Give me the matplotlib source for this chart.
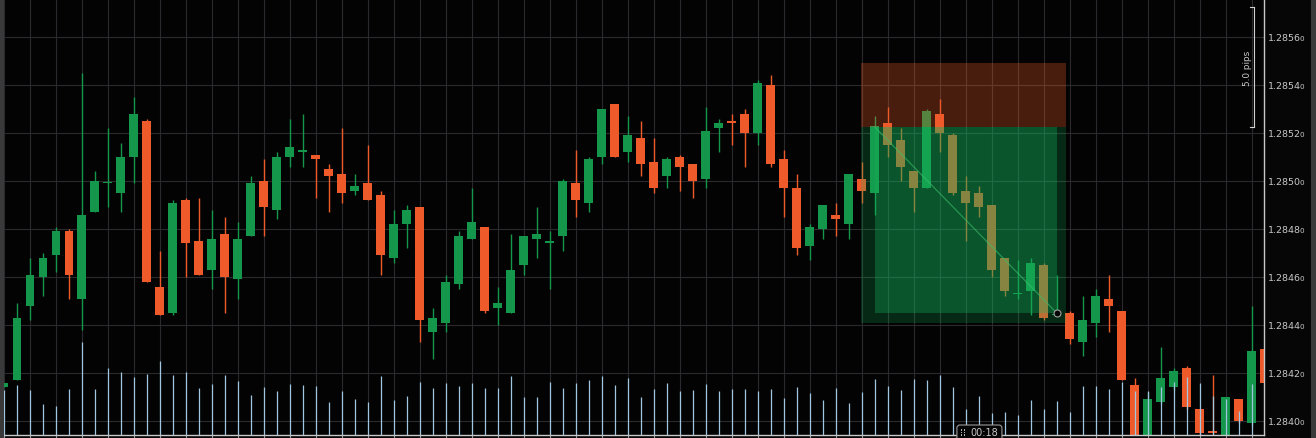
import matplotlib
matplotlib.use("Agg")
import matplotlib.pyplot as plt
from matplotlib import transforms
from matplotlib.patches import Rectangle, FancyBboxPatch
import numpy as np

# ---------------- data ----------------
opens = [1.28414, 1.28417, 1.28448, 1.28460, 1.28469, 1.28479, 1.28451, 1.28487, 1.28499, 1.28495,
         1.28510, 1.28525, 1.28456, 1.28445, 1.28492, 1.28475, 1.28463, 1.28478, 1.28459, 1.28477,
         1.28500, 1.28488, 1.28510, 1.28512, 1.28511, 1.28505, 1.28503, 1.28496, 1.28499, 1.28494,
         1.28468, 1.28482, 1.28489, 1.28437, 1.28441, 1.28457, 1.28476, 1.28481, 1.28447, 1.28445,
         1.28465, 1.28476, 1.28474, 1.28477, 1.28499, 1.28491, 1.28510, 1.28532, 1.28512, 1.28518,
         1.28508, 1.28502, 1.28510, 1.28507, 1.28501, 1.28522, 1.28525, 1.28528, 1.28520, 1.28540,
         1.28509, 1.28497, 1.28473, 1.28480, 1.28486, 1.28482, 1.28501, 1.28495, 1.28524, 1.28517,
         1.28504, 1.28497, 1.28528, 1.28519, 1.28496, 1.28495, 1.28490, 1.28468, 1.28453, 1.28454,
         1.28465, 1.28444, 1.28445, 1.28433, 1.28441, 1.28451, 1.28446, 1.28415, 1.28393, 1.28408,
         1.28414, 1.28422, 1.28405, 1.28396, 1.28393, 1.28409, 1.28399, 1.28430]
closes = [1.28416, 1.28443, 1.28461, 1.28468, 1.28479, 1.28461, 1.28486, 1.28500, 1.28499, 1.28510,
          1.28528, 1.28458, 1.28444, 1.28491, 1.28474, 1.28461, 1.28476, 1.28460, 1.28476, 1.28499,
          1.28489, 1.28510, 1.28514, 1.28513, 1.28509, 1.28502, 1.28495, 1.28498, 1.28492, 1.28469,
          1.28482, 1.28488, 1.28442, 1.28443, 1.28458, 1.28477, 1.28483, 1.28446, 1.28449, 1.28463,
          1.28477, 1.28478, 1.28475, 1.28500, 1.28492, 1.28509, 1.28530, 1.28510, 1.28519, 1.28507,
          1.28497, 1.28509, 1.28506, 1.28500, 1.28521, 1.28524, 1.28524, 1.28520, 1.28541, 1.28507,
          1.28497, 1.28472, 1.28481, 1.28490, 1.28484, 1.28503, 1.28496, 1.28523, 1.28515, 1.28506,
          1.28497, 1.28529, 1.28520, 1.28495, 1.28491, 1.28489, 1.28463, 1.28454, 1.28453, 1.28466,
          1.28443, 1.28444, 1.28434, 1.28442, 1.28452, 1.28448, 1.28417, 1.28393, 1.28409, 1.28418,
          1.28421, 1.28406, 1.28395, 1.28395, 1.28410, 1.28400, 1.28429, 1.28416]
highs = [1.28416, 1.28449, 1.28468, 1.28470, 1.28481, 1.28480, 1.28545, 1.28504, 1.28522, 1.28516,
         1.28535, 1.28526, 1.28471, 1.28492, 1.28493, 1.28493, 1.28488, 1.28485, 1.28483, 1.28502,
         1.28509, 1.28512, 1.28526, 1.28528, 1.28511, 1.28507, 1.28522, 1.28503, 1.28515, 1.28496,
         1.28488, 1.28490, 1.28489, 1.28447, 1.28461, 1.28479, 1.28497, 1.28481, 1.28456, 1.28478,
         1.28477, 1.28489, 1.28479, 1.28501, 1.28513, 1.28510, 1.28530, 1.28532, 1.28527, 1.28525,
         1.28518, 1.28510, 1.28511, 1.28507, 1.28531, 1.28526, 1.28528, 1.28530, 1.28542, 1.28544,
         1.28513, 1.28503, 1.28482, 1.28490, 1.28491, 1.28503, 1.28508, 1.28527, 1.28531, 1.28522,
         1.28504, 1.28530, 1.28534, 1.28520, 1.28502, 1.28498, 1.28490, 1.28468, 1.28467, 1.28468,
         1.28466, 1.28461, 1.28446, 1.28452, 1.28455, 1.28461, 1.28446, 1.28418, 1.28412, 1.28431,
         1.28422, 1.28423, 1.28405, 1.28419, 1.28410, 1.28409, 1.28448, 1.28431]
lows = [1.28414, 1.28417, 1.28442, 1.28452, 1.28462, 1.28451, 1.28438, 1.28487, 1.28489, 1.28487,
        1.28499, 1.28458, 1.28444, 1.28444, 1.28460, 1.28461, 1.28455, 1.28445, 1.28451, 1.28477,
        1.28477, 1.28484, 1.28506, 1.28506, 1.28493, 1.28487, 1.28491, 1.28494, 1.28492, 1.28461,
        1.28466, 1.28472, 1.28433, 1.28426, 1.28437, 1.28455, 1.28476, 1.28445, 1.28440, 1.28445,
        1.28461, 1.28468, 1.28455, 1.28471, 1.28485, 1.28487, 1.28507, 1.28510, 1.28508, 1.28502,
        1.28495, 1.28497, 1.28496, 1.28493, 1.28497, 1.28512, 1.28515, 1.28506, 1.28515, 1.28506,
        1.28485, 1.28469, 1.28467, 1.28476, 1.28477, 1.28476, 1.28491, 1.28486, 1.28510, 1.28500,
        1.28487, 1.28497, 1.28512, 1.28494, 1.28475, 1.28485, 1.28460, 1.28452, 1.28451, 1.28444,
        1.28442, 1.28444, 1.28432, 1.28427, 1.28435, 1.28437, 1.28417, 1.28392, 1.28392, 1.28407,
        1.28413, 1.28405, 1.28394, 1.28394, 1.28393, 1.28399, 1.28398, 1.28415]
volumes = [45, 50, 45, 31, 29, 46, 93, 46, 67, 63,
           58, 61, 74, 60, 63, 47, 51, 60, 54, 40,
           48, 44, 51, 50, 49, 33, 44, 36, 33, 59,
           35, 39, 53, 47, 52, 49, 52, 47, 47, 59,
           38, 38, 53, 47, 52, 55, 59, 50, 57, 38,
           46, 52, 44, 45, 51, 44, 46, 46, 44, 46,
           37, 48, 42, 35, 47, 32, 43, 56, 49, 45,
           56, 55, 60, 48, 26, 39, 22, 23, 20, 35,
           26, 34, 23, 49, 49, 46, 53, 44, 44, 48,
           53, 58, 52, 39, 36, 24, 51, 46]
price_ticks = [1.28400, 1.28420, 1.28440, 1.28460, 1.28480, 1.28500, 1.28520, 1.28540, 1.28560]

# short-position drawing
trade_start, trade_end = 65.92, 81.72
entry_idx, current_idx = 67, 81
entry_price = 1.285225
stop_price = 1.28549
target_price = 1.28441
current_price = 1.28445
pips_label = "5.0 pips"
pips_size = 0.0005
time_label = "00:18"
time_idx = 75.05

# ---------------- styling ----------------
W, H = 1316, 439
BG = "#030303"
GREEN = "#14974b"
ORANGE = "#ee5a2a"
GRID = "#2a2a2e"
AXIS = "#c8c8c8"
TXT = "#c8c8c8"
VOL = "#a2c5e0"

fig = plt.figure(figsize=(W / 100, H / 100), dpi=100, facecolor="#060606")
ax = fig.add_axes([4 / W, 3 / H, 1260 / W, 436 / H])
ax.set_facecolor(BG)

n = len(opens)
idx = np.arange(n)
o = np.array(opens); c = np.array(closes); hi = np.array(highs); lo = np.array(lows)
up = c >= o
cols = np.where(up, GREEN, ORANGE)

# wicks
ax.vlines(idx, lo, hi, colors=cols, linewidth=1.0, zorder=2)
# bodies
bottoms = np.minimum(o, c)
heights = np.maximum(np.abs(c - o), 0.000005)
ax.bar(idx, heights, bottom=bottoms, width=0.69, color=cols, linewidth=0, zorder=2.5)

# limits: 13 px per candle, first candle centred at x=3.7px
ax.set_xlim((4 - 3.7) / 13, (1264 - 3.7) / 13)
ax.set_ylim(1.28400 + (422 - 436) / 240000, 1.28400 + 422 / 240000)

# grid
ax.set_xticks(np.arange(0, n, 2))
ax.set_yticks(price_ticks)
ax.grid(True, color=GRID, linewidth=0.8)
ax.set_axisbelow(True)
ax.tick_params(axis="x", length=3, width=0.8, color="#9a9a9a", labelbottom=False, direction="out")
ax.tick_params(axis="y", length=0, labelleft=False, labelright=False)
for s in ("left", "top"):
    ax.spines[s].set_visible(False)
for s in ("right", "bottom"):
    ax.spines[s].set_color(AXIS)
    ax.spines[s].set_linewidth(1.0)

# trade boxes (overlay)
GBOX = "#14b45a"
ax.add_patch(Rectangle((trade_start, entry_price), trade_end - trade_start, stop_price - entry_price,
                       facecolor=ORANGE, alpha=0.30, linewidth=0, zorder=3))
ax.add_patch(Rectangle((trade_start, target_price), trade_end - trade_start, entry_price - target_price,
                       facecolor=GBOX, alpha=0.22, linewidth=0, zorder=3))
ax.add_patch(Rectangle((entry_idx, current_price), current_idx - entry_idx, entry_price - current_price,
                       facecolor=GBOX, alpha=0.32, linewidth=0, zorder=3.1))
ax.plot([entry_idx, current_idx], [entry_price, current_price], color="#3cbf6c", linewidth=0.9,
        alpha=0.6, zorder=4)
ax.plot([current_idx], [current_price], marker="o", markersize=5, markerfacecolor="#050505",
        markeredgecolor="#a0a0a0", markeredgewidth=0.8, zorder=6)

# volume (own scale, drawn on top)
ax2 = ax.twinx()
ax2.set_ylim(0, 436)
ax2.vlines(idx, 0, volumes, colors=VOL, linewidth=0.9, zorder=5)
ax2.set_yticks([])
for s in ax2.spines.values():
    s.set_visible(False)
ax2.set_xlim(ax.get_xlim())

# pips bracket
bt = transforms.blended_transform_factory(ax.transAxes, ax.transData)
xb = (1254 - 4) / 1260
xs = (1250 - 4) / 1260
top = entry_price + pips_size
ax.plot([xb, xb], [entry_price, top], transform=bt, color="#d0d0d0", linewidth=0.8, clip_on=False, zorder=7)
ax.plot([xs, xb], [entry_price, entry_price], transform=bt, color="#d0d0d0", linewidth=0.8, clip_on=False, zorder=7)
ax.plot([xs, xb], [top, top], transform=bt, color="#d0d0d0", linewidth=0.8, clip_on=False, zorder=7)
ax.text((1247.5 - 4) / 1260, entry_price + pips_size / 2, pips_label, transform=bt, rotation=90,
        ha="center", va="center", fontsize=6.4, color=TXT, zorder=7)

# side strips
fig.patches.append(Rectangle((0, 0), 4 / W, 1, transform=fig.transFigure, facecolor="#3a3a3a", zorder=0))
fig.patches.append(Rectangle((1311 / W, 0), 5 / W, 1, transform=fig.transFigure, facecolor="#3a3a3a", zorder=0))

# price labels with small final digit
ltrans = transforms.blended_transform_factory(fig.transFigure, ax.transData)
ltrans = transforms.offset_copy(ltrans, fig=fig, x=0, y=-3.4, units="dots")
fig.canvas.draw()
renderer = fig.canvas.get_renderer()
for p in price_ticks:
    s = f"{p:.5f}"
    t = fig.text(1268 / W, p, s[:-1], transform=ltrans, ha="left", va="baseline",
                 fontsize=6.8, color=TXT)
    bb = t.get_window_extent(renderer)
    fig.text((bb.x1 - 1.5) / W, p, s[-1], transform=transforms.blended_transform_factory(fig.transFigure, ltrans),
             ha="left", va="baseline", fontsize=5.2, color=TXT)

# time label box at the bottom
px = ax.transData.transform((time_idx, ax.get_ylim()[0]))[0]
fig.patches.append(FancyBboxPatch((px - 22.5, -8), 45, 21, transform=None,
                                  boxstyle="round,pad=0,rounding_size=3",
                                  facecolor="#050505", edgecolor="#9a9a9a", linewidth=0.8, zorder=10))
fig.text((px + 4.5) / W, 5.5 / H, time_label, ha="center", va="center", fontsize=7,
         color=TXT, zorder=11)
for dx in (-18.5, -15.5):
    for dy in (2.5, 5.0, 7.5):
        fig.patches.append(Rectangle((px + dx, dy), 1.5, 1.5, transform=None,
                                     facecolor="#b0b0b0", linewidth=0, zorder=11))

fig.savefig("out.png", dpi=100, facecolor=fig.get_facecolor())
